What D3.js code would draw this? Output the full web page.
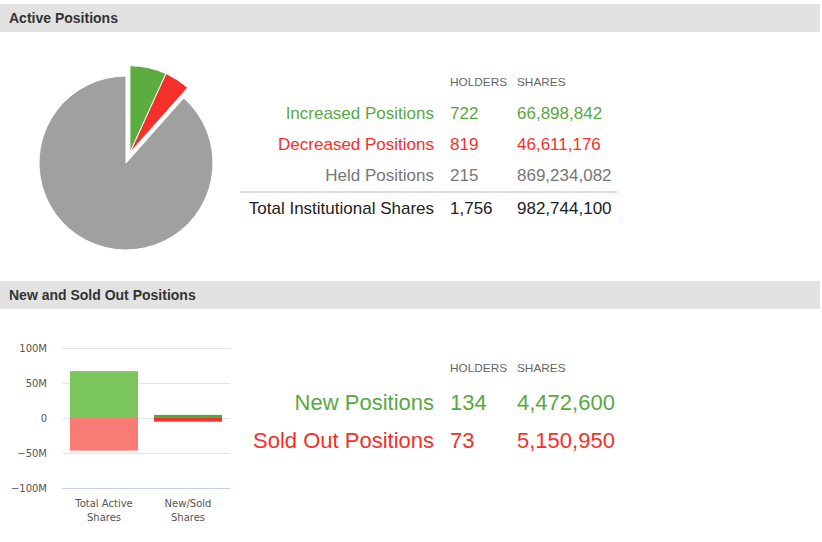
<!DOCTYPE html>
<html>
<head>
<meta charset="utf-8">
<script src="https://cdn.jsdelivr.net/npm/d3@7"></script>
<style>
  body { margin: 0; background: #fff; font-family: "Liberation Sans", Arial, sans-serif; }
  svg { display: block; }
</style>
</head>
<body>
<svg id="chart" width="822" height="542"></svg>
<script>
// active positions
const activeLabels = ['Increased Positions', 'Decreased Positions', 'Held Positions'];
const activeHolders = [722, 819, 215];
const activeShares = [66898842, 46611176, 869234082];
const totalHolders = 1756;
const totalShares = 982744100;

// new / sold out
const newSoldLabels = ['New Positions', 'Sold Out Positions'];
const newSoldHolders = [134, 73];
const newSoldShares = [4472600, 5150950];

// bar chart
const barCategories = ['Total Active Shares', 'New/Sold Shares'];
const barPositive = [66898842, 4472600];
const barNegative = [-46611176, -5150950];
const yTicks = [100e6, 50e6, 0, -50e6, -100e6];

const GREEN = '#58a942', RED = '#f5302a', GRAY = '#777777';

const svg = d3.select('#chart');

// section headers
function header(y, text) {
  svg.append('rect').attr('x', 0).attr('y', y).attr('width', 820).attr('height', 28).attr('fill', '#e2e2e2');
  svg.append('text').attr('x', 9).attr('y', y + 19).attr('font-size', 14).attr('font-weight', 'bold')
    .attr('fill', '#333').text(text);
}
header(4, 'Active Positions');
header(281, 'New and Sold Out Positions');

// pie
const pieColors = ['#5aad3e', '#f5302a', '#a0a0a0'];
const pie = d3.pie().sort(null).value(d => d)(activeShares);
const arc = d3.arc().innerRadius(0).outerRadius(87);
const slicedAngle = (pie[0].startAngle + pie[1].endAngle) / 2;
const pg = svg.append('g').attr('transform', 'translate(126,163)');
pg.selectAll('path').data(pie).join('path')
  .attr('d', arc)
  .attr('fill', (d, i) => pieColors[i])
  .attr('stroke', '#fff').attr('stroke-width', 1)
  .attr('transform', (d, i) => i < 2
    ? `translate(${11 * Math.sin(slicedAngle)},${-11 * Math.cos(slicedAngle)})` : null);

// tables
const labelX = 434, holdX = 450, shareX = 517;
const fmt = d3.format(',');
function colHeads(y) {
  svg.append('text').attr('x', holdX).attr('y', y).attr('font-size', 11.8).attr('fill', '#666').text('HOLDERS');
  svg.append('text').attr('x', shareX).attr('y', y).attr('font-size', 11.8).attr('fill', '#666').text('SHARES');
}
function row(y, size, color, label, h, s) {
  const g = svg.append('g').attr('font-size', size).attr('fill', color);
  g.append('text').attr('x', labelX).attr('y', y).attr('text-anchor', 'end').text(label);
  g.append('text').attr('x', holdX).attr('y', y).text(fmt(h));
  g.append('text').attr('x', shareX).attr('y', y).text(fmt(s));
}
colHeads(86);
const rowColors = [GREEN, RED, GRAY];
const rowY = d3.scalePoint().domain(activeLabels).range([119, 181]);
activeLabels.forEach((l, i) => row(rowY(l), 17, rowColors[i], l, activeHolders[i], activeShares[i]));
svg.append('line').attr('x1', 240).attr('x2', 617).attr('y1', 192).attr('y2', 192)
  .attr('stroke', '#dcdcdc').attr('stroke-width', 2);
row(214, 17, '#222', 'Total Institutional Shares', totalHolders, totalShares);

colHeads(372);
const nsY = d3.scalePoint().domain(newSoldLabels).range([410, 448]);
newSoldLabels.forEach((l, i) => row(nsY(l), 22, [GREEN, RED][i], l, newSoldHolders[i], newSoldShares[i]));

// bar chart
const y = d3.scaleLinear().domain([-100e6, 100e6]).range([488, 348]);
const x = d3.scaleBand().domain(barCategories).range([62, 230]).paddingInner(0).paddingOuter(0);
const bw = 68;
const bg = svg.append('g');
const yFmt = v => v === 0 ? '0' : (v < 0 ? '\u2212' : '') + Math.abs(v / 1e6) + 'M';
bg.selectAll('line.grid').data(yTicks).join('line')
  .attr('x1', 62).attr('x2', 230)
  .attr('y1', d => y(d) + 0.5).attr('y2', d => y(d) + 0.5)
  .attr('stroke', d => d === -100e6 ? '#c4d0e6' : '#e4e4e4').attr('stroke-width', 1);
bg.selectAll('text.tick').data(yTicks).join('text')
  .attr('x', 47).attr('y', d => y(d) + 4).attr('text-anchor', 'end')
  .attr('font-family', '"DejaVu Sans", sans-serif').attr('font-size', 10).attr('fill', '#555')
  .text(yFmt);

const posColors = ['#7ac65d', '#54a83e'];
const negColors = ['#f87b76', '#f5302a'];
bg.selectAll('rect.pos').data(barPositive).join('rect')
  .attr('x', (d, i) => x(barCategories[i]) + (x.bandwidth() - bw) / 2).attr('width', bw)
  .attr('y', d => y(d)).attr('height', d => y(0) - y(d))
  .attr('fill', (d, i) => posColors[i]);
bg.selectAll('rect.neg').data(barNegative).join('rect')
  .attr('x', (d, i) => x(barCategories[i]) + (x.bandwidth() - bw) / 2).attr('width', bw)
  .attr('y', y(0)).attr('height', d => y(d) - y(0))
  .attr('fill', (d, i) => negColors[i]);

// category labels (two lines)
barCategories.forEach(c => {
  const words = c.split(' ');
  const lines = [words.slice(0, -1).join(' '), words[words.length - 1]];
  const t = bg.append('text').attr('text-anchor', 'middle')
    .attr('font-family', '"DejaVu Sans", sans-serif').attr('font-size', 10).attr('fill', '#555');
  lines.forEach((ln, j) => t.append('tspan').attr('x', x(c) + x.bandwidth() / 2).attr('y', 507 + j * 14).text(ln));
});
</script>
</body>
</html>
